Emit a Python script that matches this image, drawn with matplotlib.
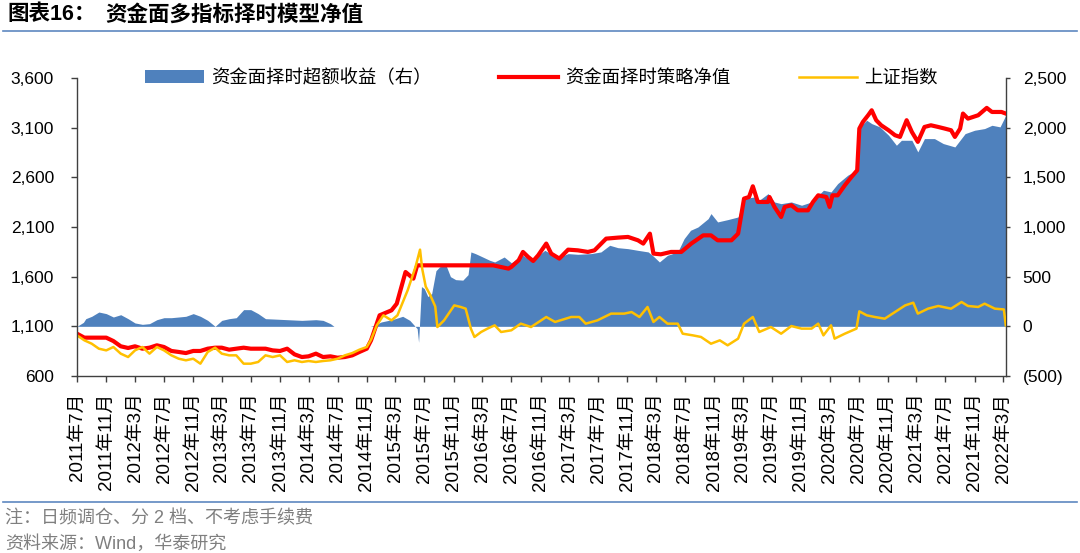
import matplotlib
matplotlib.use("Agg")
import matplotlib.pyplot as plt
import matplotlib.dates as mdates
from matplotlib.lines import Line2D
from matplotlib.patches import Patch
from matplotlib.ticker import FuncFormatter
import pandas as pd

plt.rcParams["font.family"] = ["Liberation Sans", "Noto Sans CJK SC"]

# 资金面择时策略净值 (left axis)
strategy_dates = [
    "2011-07-01", "2011-08-01", "2011-11-01", "2011-12-01", "2012-01-01", "2012-02-01",
    "2012-03-01", "2012-04-01", "2012-05-01", "2012-06-01", "2012-07-01", "2012-08-01",
    "2012-09-01", "2012-10-01", "2012-11-01", "2012-12-01", "2013-01-01", "2013-02-01",
    "2013-03-01", "2013-04-01", "2013-05-01", "2013-06-01", "2013-07-01", "2013-09-01",
    "2013-10-01", "2013-11-01", "2013-12-01", "2014-01-01", "2014-02-01", "2014-03-01",
    "2014-04-01", "2014-05-01", "2014-06-01", "2014-07-01", "2014-08-01", "2014-09-01",
    "2014-10-01", "2014-11-01", "2014-11-19", "2014-12-25", "2015-02-13", "2015-03-07",
    "2015-04-13", "2015-05-16", "2015-06-01", "2016-04-16", "2016-06-19", "2016-07-01",
    "2016-08-01", "2016-08-19", "2016-09-10", "2016-10-01", "2016-10-22", "2016-11-25",
    "2016-12-16", "2017-01-19", "2017-02-25", "2017-04-07", "2017-05-19", "2017-06-16",
    "2017-08-04", "2017-09-22", "2017-11-04", "2017-12-16", "2018-01-07", "2018-02-04",
    "2018-02-19", "2018-03-22", "2018-05-04", "2018-06-16", "2018-07-28", "2018-09-16",
    "2018-10-19", "2018-11-16", "2019-01-13", "2019-02-10", "2019-03-07", "2019-03-28",
    "2019-04-13", "2019-05-04", "2019-06-16", "2019-06-22", "2019-07-13", "2019-08-10",
    "2019-08-25", "2019-09-22", "2019-10-19", "2019-12-01", "2019-12-22", "2020-01-13",
    "2020-02-16", "2020-03-01", "2020-03-13", "2020-04-04", "2020-05-04", "2020-06-01",
    "2020-06-25", "2020-07-04", "2020-07-19", "2020-08-10", "2020-08-25", "2020-09-13",
    "2020-10-04", "2020-11-04", "2020-12-01", "2020-12-22", "2021-01-19", "2021-02-10",
    "2021-03-07", "2021-04-04", "2021-05-01", "2021-06-01", "2021-06-28", "2021-07-25",
    "2021-08-10", "2021-09-01", "2021-09-13", "2021-10-04", "2021-11-16", "2021-12-22",
    "2022-01-13", "2022-02-22", "2022-03-12",
]
strategy_values = [
    1026, 986, 986, 952, 899, 882,
    899, 875, 885, 909, 892, 852,
    842, 831, 852, 852, 875, 885,
    885, 865, 875, 885, 875, 875,
    858, 852, 875, 818, 791, 798,
    825, 791, 798, 784, 791, 808,
    842, 875, 959, 1211, 1261, 1328,
    1647, 1580, 1714, 1714, 1681, 1698,
    1765, 1849, 1798, 1758, 1815, 1933,
    1832, 1782, 1872, 1865, 1849, 1865,
    1983, 1993, 2000, 1966, 1933, 2033,
    1832, 1825, 1849, 1849, 1933, 2016,
    2016, 1966, 1966, 2033, 2386, 2402,
    2510, 2352, 2352, 2402, 2302, 2201,
    2302, 2319, 2268, 2268, 2352, 2419,
    2402, 2302, 2419, 2419, 2520, 2604,
    2671, 3091, 3158, 3225, 3275, 3175,
    3124, 3074, 3024, 3007, 3175, 3057,
    2957, 3107, 3124, 3107, 3091, 3074,
    3007, 3091, 3242, 3191, 3225, 3299,
    3258, 3258, 3242,
]

# 上证指数 (left axis)
index_dates = [
    "2011-07-01", "2011-08-01", "2011-09-01", "2011-10-01", "2011-11-01", "2011-12-01",
    "2012-01-01", "2012-02-01", "2012-03-01", "2012-04-01", "2012-05-01", "2012-06-01",
    "2012-07-01", "2012-08-01", "2012-09-01", "2012-10-01", "2012-11-01", "2012-12-01",
    "2013-01-01", "2013-02-01", "2013-03-01", "2013-04-01", "2013-05-01", "2013-06-01",
    "2013-07-01", "2013-08-01", "2013-09-01", "2013-10-01", "2013-11-01", "2013-12-01",
    "2014-01-01", "2014-02-01", "2014-03-01", "2014-04-01", "2014-05-01", "2014-06-01",
    "2014-07-01", "2014-08-01", "2014-09-01", "2014-10-01", "2014-11-01", "2014-11-19",
    "2014-12-13", "2015-01-10", "2015-02-13", "2015-03-10", "2015-04-22", "2015-05-25",
    "2015-06-13", "2015-06-22", "2015-07-07", "2015-07-25", "2015-08-16", "2015-08-25",
    "2015-09-22", "2015-11-04", "2015-12-01", "2015-12-22", "2016-01-13", "2016-01-28",
    "2016-02-25", "2016-03-22", "2016-04-22", "2016-05-19", "2016-07-01", "2016-08-10",
    "2016-09-22", "2016-11-25", "2017-01-01", "2017-03-10", "2017-04-13", "2017-05-10",
    "2017-06-28", "2017-08-25", "2017-10-19", "2017-11-19", "2017-12-22", "2018-01-25",
    "2018-02-19", "2018-03-16", "2018-04-19", "2018-06-01", "2018-06-22", "2018-08-04",
    "2018-09-07", "2018-10-19", "2018-11-25", "2018-12-28", "2019-02-10", "2019-03-07",
    "2019-04-13", "2019-05-10", "2019-06-28", "2019-08-10", "2019-09-22", "2019-11-04",
    "2019-12-16", "2020-01-13", "2020-02-04", "2020-03-07", "2020-03-22", "2020-05-04",
    "2020-06-22", "2020-07-04", "2020-08-04", "2020-09-07", "2020-10-19", "2020-12-01",
    "2021-01-13", "2021-02-16", "2021-03-07", "2021-04-19", "2021-06-01", "2021-07-25",
    "2021-09-07", "2021-10-04", "2021-11-16", "2021-12-13", "2022-01-25", "2022-03-04",
    "2022-03-12",
]
index_values = [
    1009, 959, 925, 875, 858, 892,
    825, 791, 858, 892, 825, 892,
    858, 808, 774, 758, 774, 724,
    842, 885, 825, 808, 808, 724,
    724, 741, 808, 791, 808, 741,
    758, 741, 751, 741, 751, 758,
    774, 808, 831, 865, 892, 966,
    1110, 1211, 1160, 1211, 1463, 1698,
    1872, 1681, 1500, 1420, 1300, 1093,
    1160, 1311, 1295, 1278, 1076, 993,
    1043, 1076, 1110, 1043, 1060, 1127,
    1093, 1194, 1144, 1194, 1194, 1127,
    1160, 1228, 1228, 1244, 1194, 1295,
    1144, 1194, 1127, 1127, 1026, 1009,
    993, 925, 959, 909, 976, 1127,
    1194, 1043, 1093, 1026, 1103, 1077,
    1077, 1127, 1009, 1110, 976, 1026,
    1077, 1251, 1211, 1194, 1177, 1244,
    1311, 1338, 1228, 1278, 1305, 1278,
    1345, 1305, 1295, 1328, 1278, 1270,
    1110,
]

# 资金面择时超额收益（右）
excess_dates = [
    "2011-07-01", "2011-07-28", "2011-08-07", "2011-09-01", "2011-10-01", "2011-11-01",
    "2011-12-01", "2012-01-01", "2012-02-01", "2012-03-01", "2012-04-01", "2012-05-01",
    "2012-06-01", "2012-07-01", "2012-08-01", "2012-09-01", "2012-10-01", "2012-11-01",
    "2012-12-01", "2013-01-01", "2013-02-01", "2013-03-01", "2013-04-01", "2013-05-01",
    "2013-06-01", "2013-07-01", "2013-08-01", "2013-09-01", "2013-10-01", "2013-12-01",
    "2014-02-01", "2014-04-01", "2014-05-01", "2014-06-01", "2014-06-16", "2014-11-16",
    "2014-12-01", "2015-01-01", "2015-02-01", "2015-03-01", "2015-04-01", "2015-05-01",
    "2015-06-01", "2015-06-07", "2015-06-19", "2015-07-01", "2015-07-16", "2015-08-01",
    "2015-08-19", "2015-09-04", "2015-10-01", "2015-10-19", "2015-11-10", "2015-12-10",
    "2016-01-01", "2016-01-13", "2016-02-01", "2016-03-01", "2016-04-01", "2016-04-22",
    "2016-06-01", "2016-07-01", "2016-08-19", "2016-09-22", "2016-11-19", "2017-01-13",
    "2017-02-25", "2017-04-07", "2017-06-01", "2017-07-13", "2017-08-19", "2017-09-22",
    "2017-11-04", "2017-12-16", "2018-01-28", "2018-02-19", "2018-03-16", "2018-04-19",
    "2018-06-01", "2018-06-28", "2018-07-25", "2018-08-25", "2018-10-07", "2018-10-19",
    "2018-11-16", "2018-12-28", "2019-02-10", "2019-03-07", "2019-04-19", "2019-05-10",
    "2019-06-16", "2019-07-13", "2019-08-10", "2019-09-22", "2019-11-04", "2019-12-16",
    "2020-02-04", "2020-03-07", "2020-04-04", "2020-05-16", "2020-06-22", "2020-07-07",
    "2020-07-13", "2020-08-04", "2020-08-25", "2020-09-28", "2020-11-04", "2020-12-07",
    "2020-12-28", "2021-02-10", "2021-03-07", "2021-04-04", "2021-05-16", "2021-06-22",
    "2021-08-10", "2021-09-22", "2021-11-01", "2021-12-13", "2022-01-13", "2022-02-16",
    "2022-03-12",
]
excess_values = [
    0, 40, 77, 101, 144, 128,
    94, 117, 77, 34, 20, 27,
    67, 87, 87, 94, 101, 128,
    101, 60, 0, 60, 77, 87,
    168, 168, 128, 77, 74, 67,
    60, 67, 60, 27, 0, 0,
    10, 44, 60, 77, 101, 60,
    -23, -161, 400, 380, 300, 330,
    560, 600, 610, 500, 470, 465,
    520, 749, 732, 700, 665, 648,
    698, 640, 715, 658, 765, 692,
    732, 725, 732, 749, 816, 792,
    782, 765, 749, 705, 648, 715,
    749, 883, 967, 1000, 1084, 1135,
    1051, 1074, 1101, 1286, 1302, 1269,
    1336, 1252, 1235, 1252, 1219, 1252,
    1370, 1353, 1437, 1521, 1571, 2000,
    2024, 2075, 2041, 2008, 1924, 1823,
    1873, 1873, 1756, 1890, 1890, 1840,
    1806, 1940, 1974, 1991, 2024, 2008,
    2125,
]

left_ticks = [600, 1100, 1600, 2100, 2600, 3100, 3600]
right_ticks = [-500, 0, 500, 1000, 1500, 2000, 2500]

BLUE = "#4F81BD"
RED = "#FF0000"
YELLOW = "#FFC000"
RULE = "#5E87C0"
SPINE = "#404040"


def right_fmt(v, pos):
    v = int(round(v))
    return f"({abs(v):,})" if v < 0 else f"{v:,}"


def date_fmt(x, pos):
    d = mdates.num2date(x)
    return f"{d.year}年{d.month}月"


def main():
    fig = plt.figure(figsize=(10.8, 5.53), dpi=100)
    W, H = 1080, 553

    ax = fig.add_axes([77 / W, 1 - 376 / H, (1006 - 77) / W, (376 - 78) / H])
    ax2 = ax.twinx()
    ax.set_zorder(ax2.get_zorder() + 1)
    ax.patch.set_visible(False)

    ex_d = pd.to_datetime(excess_dates)
    ax2.fill_between(ex_d, 0, excess_values, color=BLUE, linewidth=0)

    ax.plot(pd.to_datetime(strategy_dates), strategy_values, color=RED, lw=3.0,
            solid_joinstyle="round")
    ax.plot(pd.to_datetime(index_dates), index_values, color=YELLOW, lw=1.8,
            solid_joinstyle="round")

    ax.set_xlim(pd.Timestamp("2011-07-01"), pd.Timestamp("2022-03-13"))
    ax.set_ylim(600, 3600)
    ax2.set_ylim(-500, 2500)
    ax.set_yticks(left_ticks)
    ax2.set_yticks(right_ticks)
    ax.yaxis.set_major_formatter(FuncFormatter(lambda v, p: f"{int(v):,}"))
    ax2.yaxis.set_major_formatter(FuncFormatter(right_fmt))

    ax.xaxis.set_major_locator(mdates.MonthLocator(bymonth=[3, 7, 11]))
    ax.xaxis.set_major_formatter(FuncFormatter(date_fmt))
    for lab in ax.get_xticklabels():
        lab.set_rotation(90)

    for s in ["top", "right"]:
        ax.spines[s].set_visible(False)
    for s in ["top", "left", "bottom"]:
        ax2.spines[s].set_visible(False)
    for s in ["left", "bottom"]:
        ax.spines[s].set_color(SPINE)
        ax.spines[s].set_linewidth(1.0)
    ax2.spines["right"].set_color(SPINE)
    ax2.spines["right"].set_linewidth(1.0)

    ax.tick_params(axis="y", direction="out", length=4.5, width=1.0, color=SPINE,
                   pad=12, labelsize=12.5)
    ax.tick_params(axis="x", direction="out", length=4, width=1.0, color=SPINE,
                   pad=8, labelsize=13.5)
    ax2.tick_params(axis="y", direction="out", length=3, width=1.0, color=SPINE,
                    pad=9, labelsize=12.5)

    handles = [
        Patch(facecolor=BLUE, edgecolor="none"),
        Line2D([], [], color=RED, lw=3.0),
        Line2D([], [], color=YELLOW, lw=1.8),
    ]
    labels = ["资金面择时超额收益（右）", "资金面择时策略净值", "上证指数"]
    ax.legend(handles, labels, loc="center", bbox_to_anchor=(0.5, 1.0), ncol=3,
              frameon=False, handlelength=3.2, handletextpad=0.4,
              columnspacing=3.7, prop={"family": ["Noto Sans CJK SC"], "size": 13.2})

    fig.text(7 / W, 1 - 15 / H, "图表16：", fontsize=15.5, fontweight="bold", va="center")
    fig.text(105 / W, 1 - 15 / H, "资金面多指标择时模型净值", fontsize=15.5,
             fontweight="bold", va="center")
    fig.add_artist(Line2D([3 / W, 1077 / W], [1 - 31 / H, 1 - 31 / H], color=RULE,
                          lw=1.2, transform=fig.transFigure))
    fig.add_artist(Line2D([3 / W, 1077 / W], [1 - 502 / H, 1 - 502 / H], color=RULE,
                          lw=1.2, transform=fig.transFigure))
    fig.text(5 / W, 1 - 518 / H, "注：日频调仓、分 2 档、不考虑手续费", fontsize=13,
             color="#7F7F7F", va="center")
    fig.text(5 / W, 1 - 544 / H, "资料来源：Wind，华泰研究", fontsize=13,
             color="#7F7F7F", va="center")

    fig.savefig("out.png", dpi=100)
    plt.close(fig)


if __name__ == "__main__":
    main()
